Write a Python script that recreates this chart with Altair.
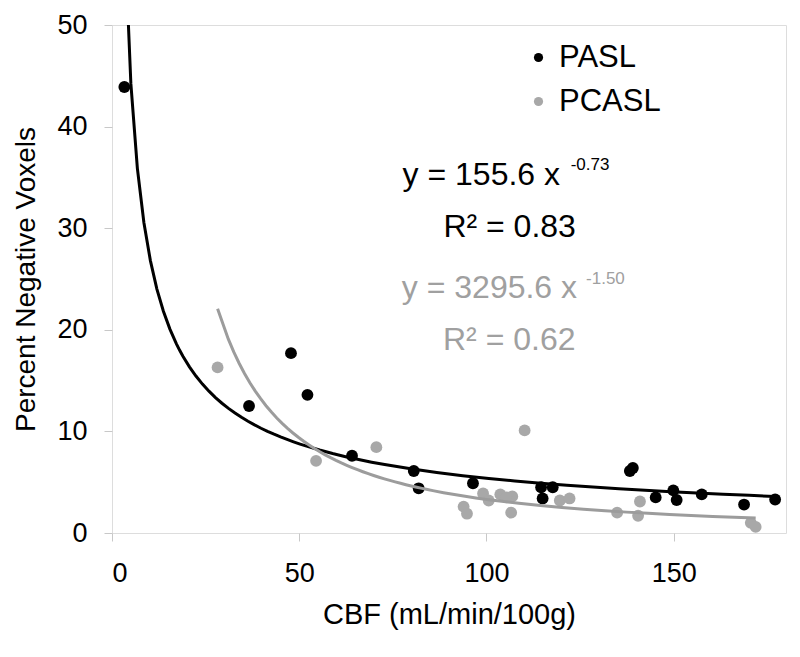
import altair as alt
import pandas as pd

# ---- data ----
pasl_cbf = [3.3, 36.6, 47.8, 52.2, 64.1, 80.6, 81.9, 96.4, 114.6, 117.7, 115.0,
            138.3, 139.1, 145.2, 149.9, 150.8, 157.5, 168.8, 177.1]
pasl_neg = [43.9, 12.5, 17.7, 13.6, 7.6, 6.1, 4.4, 4.9, 4.5, 4.5, 3.4,
            6.1, 6.4, 3.5, 4.2, 3.25, 3.8, 2.8, 3.3]
pcasl_cbf = [28.2, 54.5, 70.6, 110.2, 93.9, 94.8, 99.1, 100.6, 103.7, 106.9,
             105.3, 106.6, 119.6, 122.2, 134.9, 141.0, 140.5, 170.6, 171.9]
pcasl_neg = [16.3, 7.1, 8.45, 10.1, 2.6, 1.9, 3.9, 3.2, 3.8, 3.6,
             3.5, 2.0, 3.2, 3.4, 2.0, 3.1, 1.7, 1.0, 0.6]

series_names = ["PASL", "PCASL"]
series_colors = ["#000000", "#a8a8a8"]

x_ticks = [0, 50, 100, 150]
y_ticks = [0, 10, 20, 30, 40, 50]

eq_text = ["y = 155.6 x", "R\u00b2 = 0.83", "y = 3295.6 x", "R\u00b2 = 0.62"]
eq_x = [77.6, 88.5, 77.4, 88.4]
eq_y = [34.25, 29.1, 23.1, 18.0]
eq_color = ["#000000", "#000000", "#a0a0a0", "#a0a0a0"]

sup_text = ["-0.73", "-1.50"]
sup_x = [122.5, 126.6]
sup_y = [35.7, 24.5]
sup_color = ["#000000", "#a0a0a0"]

FONT = "Liberation Sans"

df = pd.DataFrame({
    "cbf": pasl_cbf + pcasl_cbf,
    "neg": pasl_neg + pcasl_neg,
    "series": ["PASL"] * len(pasl_cbf) + ["PCASL"] * len(pcasl_cbf),
})
eq_df = pd.DataFrame({"x": eq_x, "y": eq_y, "text": eq_text, "color": eq_color})
sup_df = pd.DataFrame({"x": sup_x, "y": sup_y, "text": sup_text, "color": sup_color})

xscale = alt.Scale(domain=[0, 180], nice=False, zero=False)
yscale = alt.Scale(domain=[0, 50], nice=False)

x_axis = alt.Axis(values=x_ticks, labelFontSize=27, labelFont=FONT, labelColor="#000",
                  tickColor="#c8c8c8", tickSize=8, domain=False, grid=False,
                  labelPadding=19, title="CBF (mL/min/100g)", titleFont=FONT,
                  titleFontSize=29, titleFontWeight="normal", titleColor="#000",
                  titlePadding=14)
y_axis = alt.Axis(values=y_ticks, labelFontSize=27, labelFont=FONT, labelColor="#000",
                  tickColor="#c8c8c8", tickSize=8, domain=False, grid=False,
                  labelPadding=17, title="Percent Negative Voxels", titleFont=FONT,
                  titleFontSize=28, titleFontWeight="normal", titleColor="#000",
                  titlePadding=16)

points = alt.Chart(df).mark_point(filled=True, size=140, opacity=1).encode(
    x=alt.X("cbf:Q", scale=xscale, axis=x_axis),
    y=alt.Y("neg:Q", scale=yscale, axis=y_axis),
    color=alt.Color("series:N",
                    scale=alt.Scale(domain=series_names, range=series_colors),
                    legend=alt.Legend(orient="none", legendX=411, legendY=17,
                                      title=None, labelFontSize=31, labelFont=FONT,
                                      labelColor="#000", symbolSize=85,
                                      symbolType="circle", labelOffset=5,
                                      rowPadding=12, padding=0,
                                      symbolStrokeWidth=0)),
    order=alt.Order("series:N", sort="descending"),
)

fits = alt.Chart(df).transform_regression(
    "cbf", "neg", method="pow", groupby=["series"]
).mark_line(strokeWidth=3, clip=True).encode(
    x=alt.X("cbf:Q", scale=xscale),
    y=alt.Y("neg:Q", scale=yscale),
    stroke=alt.Stroke("series:N",
                      scale=alt.Scale(domain=series_names, range=["#000000", "#9c9c9c"]),
                      legend=None),
    detail="series:N",
)

eqs = alt.Chart(eq_df).mark_text(align="left", baseline="alphabetic",
                                  font=FONT, fontSize=32).encode(
    x=alt.X("x:Q", scale=xscale),
    y=alt.Y("y:Q", scale=yscale),
    text="text:N",
    color=alt.Color("color:N", scale=None),
)

sups = alt.Chart(sup_df).mark_text(align="left", baseline="alphabetic",
                                    font=FONT, fontSize=17).encode(
    x=alt.X("x:Q", scale=xscale),
    y=alt.Y("y:Q", scale=yscale),
    text="text:N",
    color=alt.Color("color:N", scale=None),
)

chart = alt.layer(points, fits, eqs, sups).properties(
    width=674, height=508,
    autosize=alt.AutoSizeParams(type="none"),
    padding={"left": 104, "top": 17, "right": 6, "bottom": 116},
).configure_view(
    stroke="#707070", strokeWidth=2
).configure(background="white")

chart.save("out.html", embed_options={"renderer": "svg", "actions": False})
